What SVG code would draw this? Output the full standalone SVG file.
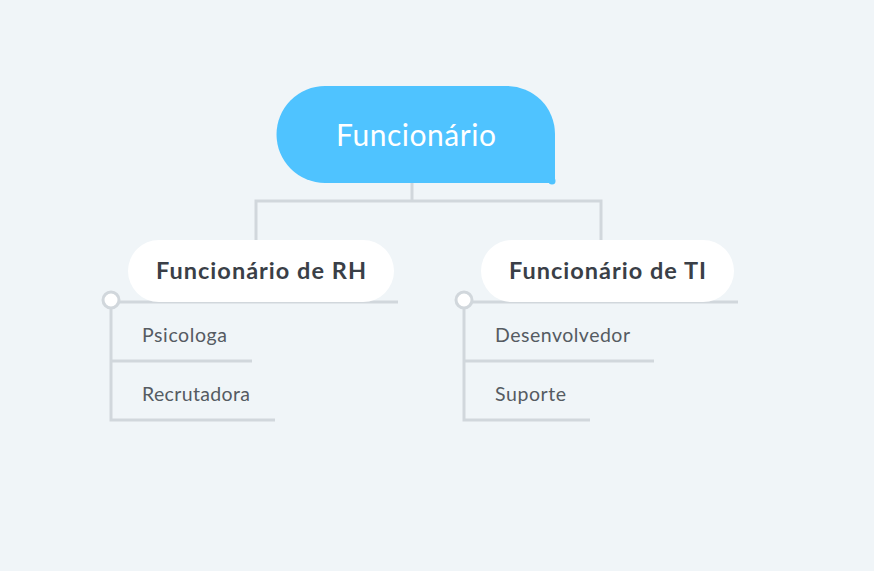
<svg xmlns="http://www.w3.org/2000/svg" width="874" height="571" viewBox="0 0 874 571">
<style>
.ln{stroke:#d1d7dc;stroke-width:3;fill:none}
.pill{fill:#ffffff}
.h{font-family:Lato,"Open Sans",sans-serif;font-weight:bold;font-size:23.5px;fill:#3a3f47}
.s{font-family:Lato,"Open Sans",sans-serif;font-size:19.5px;fill:#555b62}
.dot{fill:#ffffff;stroke:#d1d7dc;stroke-width:3}
</style>
<rect width="874" height="571" fill="#f0f5f8"/>
<g id="connectors">
<path class="ln" d="M412 183V201M256 241V201H601V241"/>
<path class="ln" d="M111 302H398M111 300V420H275M111 361H252"/>
<path class="ln" d="M464 302H738M464 300V420H590M464 361H654"/>
</g>
<g id="root">
<path d="M325 86H507A48 48 0 0 1 555 134V183H325A48.5 48.5 0 0 1 325 86Z" fill="#4fc3ff"/>
<circle cx="552" cy="181" r="3.5" fill="#4fc3ff"/>
<text x="336" y="146" font-family="Lato,'Open Sans',sans-serif" font-size="30" fill="#ffffff" textLength="160" lengthAdjust="spacing">Funcionário</text>
</g>
<g id="rh">
<rect class="pill" x="128" y="240" width="266" height="62" rx="31"/>
<text class="h" x="156" y="279" textLength="210" lengthAdjust="spacing">Funcionário de RH</text>
<circle class="dot" cx="111" cy="300" r="8"/>
</g>
<g id="ti">
<rect class="pill" x="481" y="240" width="253" height="62" rx="31"/>
<text class="h" x="509" y="279" textLength="197" lengthAdjust="spacing">Funcionário de TI</text>
<circle class="dot" cx="464" cy="300" r="8"/>
</g>
<g id="psicologa"><text class="s" x="142" y="342" textLength="85" lengthAdjust="spacing">Psicologa</text></g>
<g id="recrutadora"><text class="s" x="142" y="401" textLength="108" lengthAdjust="spacing">Recrutadora</text></g>
<g id="desenvolvedor"><text class="s" x="495" y="342" textLength="135" lengthAdjust="spacing">Desenvolvedor</text></g>
<g id="suporte"><text class="s" x="495" y="401" textLength="71" lengthAdjust="spacing">Suporte</text></g>
</svg>
